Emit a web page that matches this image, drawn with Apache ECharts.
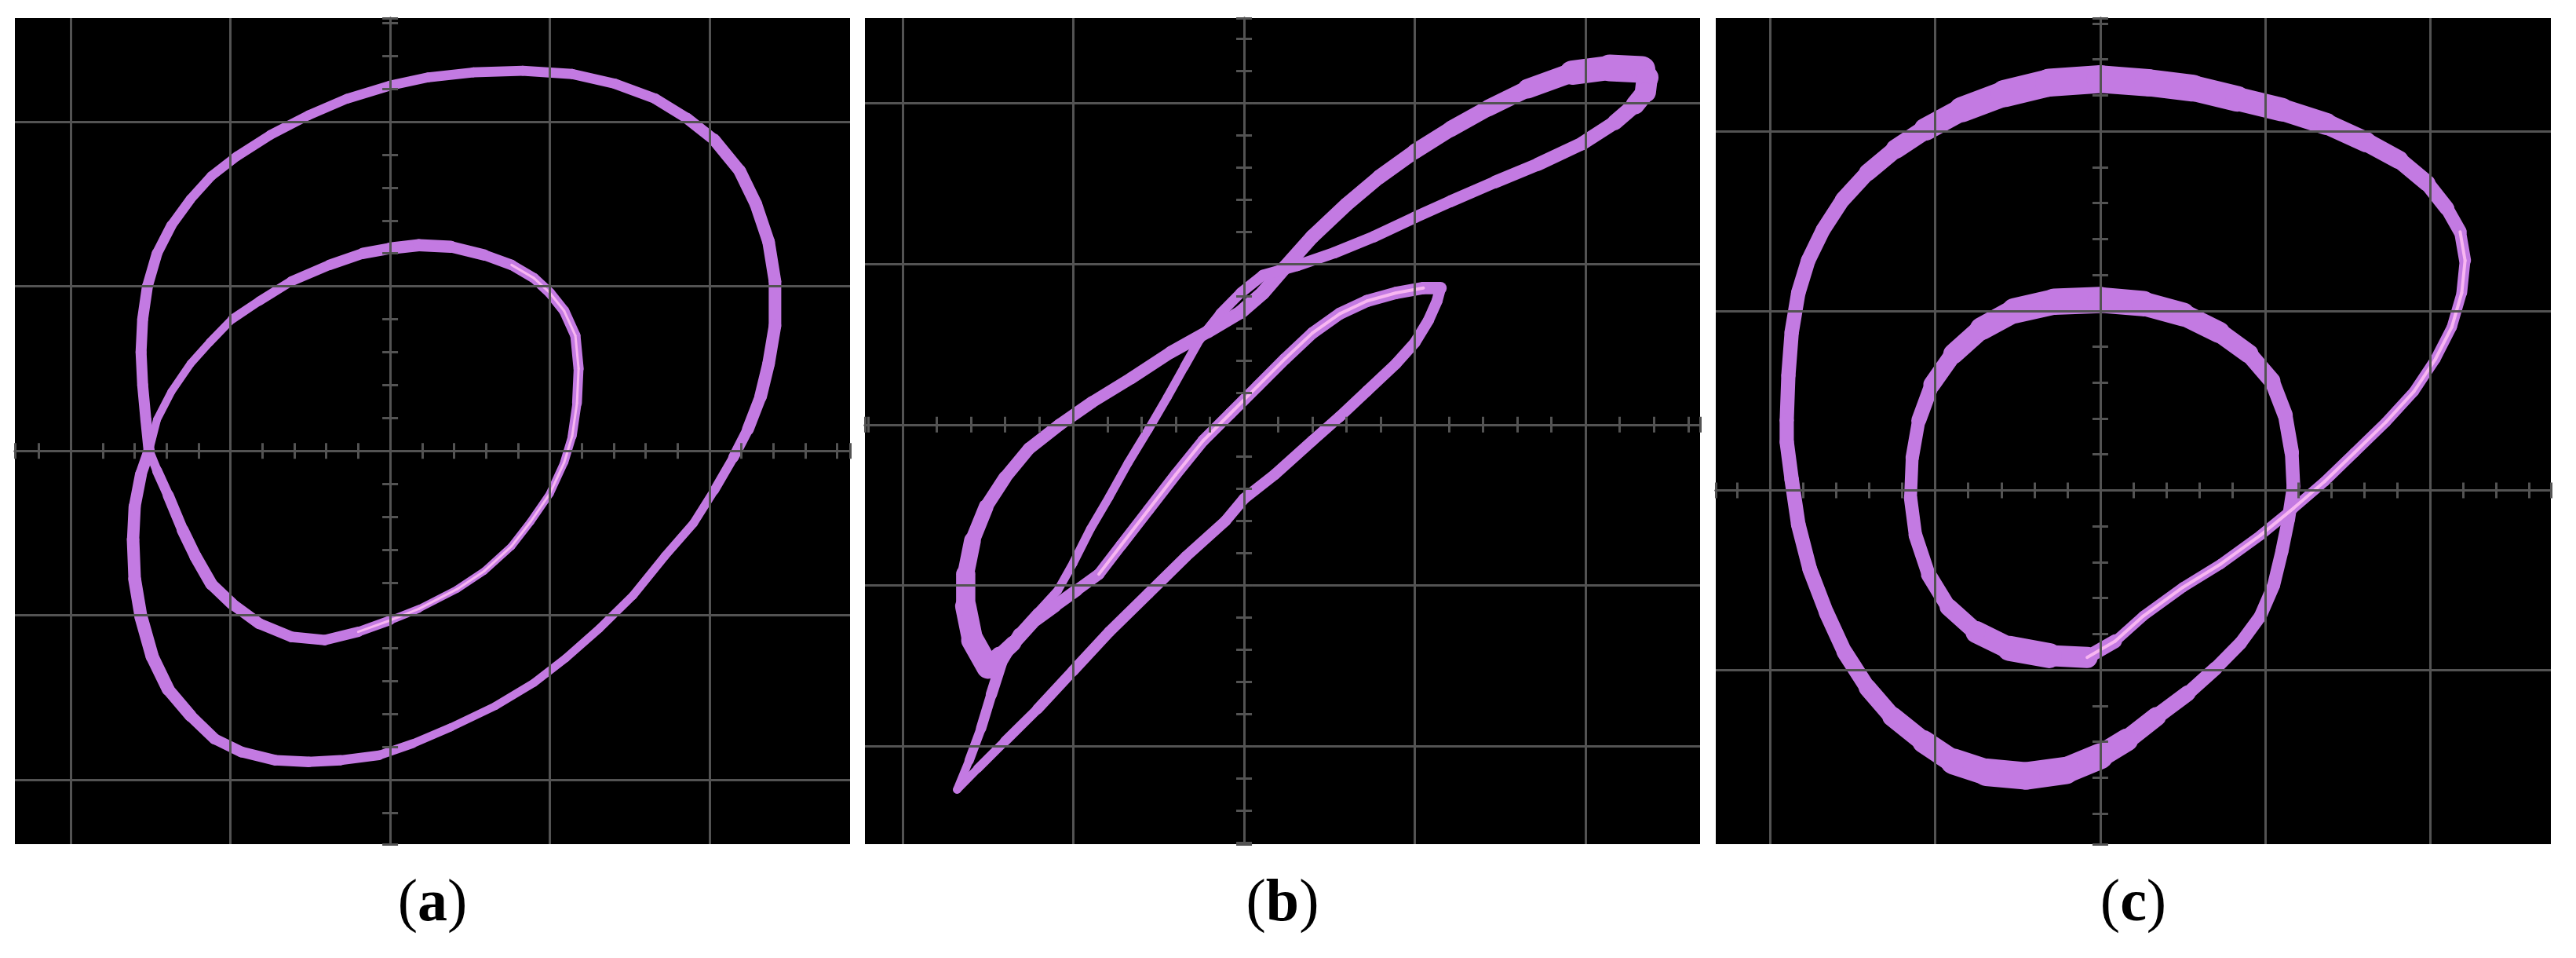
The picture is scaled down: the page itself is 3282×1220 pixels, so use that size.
<!DOCTYPE html>
<html><head><meta charset="utf-8">
<script src="https://cdn.jsdelivr.net/npm/echarts@6/dist/echarts.min.js"></script>
<style>html,body{margin:0;padding:0;background:#fff;} #chart{width:3282px;height:1220px;}</style>
</head><body><div id="chart"></div>
<script>
// ---------- data (oscilloscope divisions) ----------
const panelLabels = ['a', 'b', 'c'];

// panel (a): one closed trace, outer loop and inner loop through the crossing point
const aOuter = [[-1.51,0],[-1.53,0.19],[-1.55,0.40],[-1.56,0.60],[-1.55,0.80],[-1.52,1.00],[-1.46,1.20],[-1.37,1.37],[-1.25,1.53],[-1.12,1.67],[-0.96,1.79],[-0.75,1.92],[-0.51,2.04],[-0.27,2.14],[0,2.22],[0.24,2.27],[0.52,2.30],[0.83,2.31],[1.14,2.29],[1.41,2.23],[1.66,2.14],[1.86,2.02],[2.03,1.89],[2.19,1.70],[2.29,1.50],[2.37,1.27],[2.41,1.03],[2.41,0.76],[2.37,0.53],[2.32,0.33],[2.24,0.13],[2.15,-0.04],[2.03,-0.24],[1.90,-0.44],[1.72,-0.64],[1.52,-0.88],[1.31,-1.08],[1.10,-1.26],[0.90,-1.41],[0.66,-1.55],[0.38,-1.68],[0.14,-1.78],[-0.07,-1.85],[-0.31,-1.88],[-0.51,-1.89],[-0.72,-1.88],[-0.93,-1.83],[-1.10,-1.75],[-1.25,-1.61],[-1.39,-1.45],[-1.49,-1.25],[-1.56,-1.01],[-1.60,-0.78],[-1.61,-0.54],[-1.60,-0.34],[-1.56,-0.14],[-1.51,0]];
const aInner = [[-1.51,0],[-1.46,0.19],[-1.37,0.36],[-1.25,0.53],[-1.13,0.66],[-0.99,0.80],[-0.82,0.91],[-0.62,1.03],[-0.38,1.13],[-0.17,1.20],[0,1.23],[0.18,1.25],[0.38,1.24],[0.59,1.19],[0.76,1.13],[0.90,1.05],[1.00,0.96],[1.09,0.85],[1.16,0.70],[1.18,0.50],[1.17,0.29],[1.14,0.09],[1.09,-0.07],[1.00,-0.26],[0.88,-0.43],[0.76,-0.58],[0.59,-0.73],[0.42,-0.84],[0.18,-0.96],[0,-1.03],[-0.20,-1.10],[-0.41,-1.15],[-0.62,-1.13],[-0.82,-1.05],[-0.99,-0.93],[-1.12,-0.81],[-1.22,-0.64],[-1.30,-0.48],[-1.39,-0.27],[-1.46,-0.12],[-1.51,0]];

// panel (b): two nested leaf-shaped loops
const bUpperEdge = [[-1.50,-1.51],[-1.59,-1.34],[-1.63,-1.13],[-1.63,-0.93],[-1.59,-0.72],[-1.51,-0.51],[-1.40,-0.33],[-1.26,-0.15],[-1.08,0],[-0.89,0.14],[-0.66,0.29],[-0.43,0.45],[-0.21,0.58],[-0.02,0.70],[0.11,0.82],[0.24,0.98],[0.40,1.17],[0.60,1.37],[0.79,1.54],[1.00,1.70],[1.21,1.84],[1.43,1.97],[1.66,2.09],[1.92,2.19],[2.14,2.22],[2.33,2.21]];
const bReturnEdge = [[2.33,2.21],[2.36,2.16],[2.35,2.07],[2.29,1.99],[2.17,1.88],[1.98,1.75],[1.72,1.62],[1.47,1.51],[1.21,1.39],[1.00,1.29],[0.76,1.17],[0.53,1.07],[0.31,0.99],[0.11,0.93],[-0.02,0.82],[-0.14,0.69],[-0.26,0.53],[-0.35,0.36],[-0.45,0.17],[-0.56,-0.03],[-0.68,-0.24],[-0.79,-0.45],[-0.90,-0.65],[-1.00,-0.86],[-1.09,-1.03],[-1.21,-1.17],[-1.32,-1.30],[-1.42,-1.48],[-1.48,-1.68],[-1.54,-1.89],[-1.61,-2.09],[-1.68,-2.27]];
const bLowerEdge = [[-1.68,-2.27],[-1.56,-2.14],[-1.40,-1.97],[-1.21,-1.77],[-1.00,-1.53],[-0.79,-1.29],[-0.56,-1.05],[-0.34,-0.82],[-0.11,-0.60],[0,-0.46],[0.18,-0.31],[0.40,-0.10],[0.56,0.05],[0.72,0.21],[0.89,0.38],[1.00,0.51],[1.08,0.65],[1.13,0.77],[1.15,0.85]];
const bSmallEdge = [[1.15,0.85],[1.05,0.85],[0.89,0.82],[0.72,0.77],[0.56,0.69],[0.40,0.57],[0.24,0.41],[0.08,0.24],[-0.08,0.07],[-0.24,-0.10],[-0.40,-0.31],[-0.56,-0.53],[-0.72,-0.75],[-0.85,-0.93],[-0.98,-1.03],[-1.11,-1.13],[-1.24,-1.23],[-1.35,-1.36],[-1.43,-1.44],[-1.50,-1.51]];

// panel (c): one closed trace
const cLoop = [[-1.90,0.39],[-1.89,0.64],[-1.87,0.88],[-1.83,1.10],[-1.77,1.28],[-1.68,1.45],[-1.56,1.62],[-1.41,1.77],[-1.24,1.90],[-1.06,2.01],[-0.84,2.12],[-0.58,2.21],[-0.31,2.27],[0,2.29],[0.29,2.27],[0.56,2.24],[0.83,2.18],[1.10,2.12],[1.37,2.04],[1.61,1.94],[1.81,1.84],[1.98,1.71],[2.10,1.57],[2.18,1.44],[2.21,1.28],[2.19,1.10],[2.13,0.91],[2.03,0.73],[1.90,0.55],[1.73,0.38],[1.54,0.21],[1.36,0.05],[1.17,-0.10],[0.97,-0.25],[0.73,-0.41],[0.50,-0.54],[0.26,-0.70],[0.09,-0.84],[-0.08,-0.93],[-0.31,-0.92],[-0.55,-0.88],[-0.75,-0.79],[-0.92,-0.65],[-1.04,-0.47],[-1.12,-0.25],[-1.15,-0.04],[-1.14,0.18],[-1.10,0.39],[-1.02,0.59],[-0.89,0.76],[-0.72,0.90],[-0.52,1.00],[-0.28,1.05],[0,1.06],[0.26,1.04],[0.50,0.98],[0.72,0.88],[0.90,0.76],[1.04,0.61],[1.12,0.42],[1.16,0.21],[1.17,0.02],[1.14,-0.16],[1.10,-0.34],[1.05,-0.53],[0.97,-0.70],[0.85,-0.85],[0.70,-0.99],[0.53,-1.13],[0.34,-1.26],[0.16,-1.39],[0,-1.48],[-0.21,-1.56],[-0.45,-1.59],[-0.69,-1.57],[-0.89,-1.51],[-1.07,-1.40],[-1.26,-1.26],[-1.41,-1.10],[-1.55,-0.90],[-1.66,-0.68],[-1.76,-0.44],[-1.83,-0.19],[-1.87,0.06],[-1.90,0.27],[-1.90,0.39]];

// visible screen extents of each panel, in divisions [xmin, xmax, ymin, ymax]
const aExtent = [-2.35, 2.88, -2.39, 2.63];
const bExtent = [-2.22, 2.67, -2.61, 2.53];
const cExtent = [-2.33, 2.73, -1.97, 2.63];

// ---------- styling ----------
const GRID = '#535353';
const TRACE = '#c37ae2';
const GLOW = '#f8b6f2';
const panelLeft = [19, 1102, 2186];
const panelTop = 23, panelW = 1064, panelH = 1052;
const labelY = 1152;

// trace thickness (px) keyed by point index along each trace
const aOuterW = [[0,14],[5,14],[8,12],[20,13],[23,16],[29,16],[32,11],[40,10],[43,13],[47,14],[50,17],[55,15],[56,14]];
const aInnerW = [[0,10],[4,10],[8,13],[11,16],[14,13],[19,13],[22,10],[28,9],[30,13],[33,14],[36,16],[40,11]];
const bUpperW = [[0,30],[2,26],[4,20],[6,16],[10,15],[14,18],[18,18],[22,22],[24,34],[25,34]];
const bReturnW = [[0,30],[2,26],[4,18],[8,15],[13,14],[17,11],[25,11],[27,15],[31,10]];
const bLowerW = [[0,10],[4,14],[18,14]];
const bSmallW = [[0,16],[13,14],[17,18],[19,26]];
const cLoopW = [[0,18],[6,19],[8,23],[10,31],[12,36],[15,34],[17,29],[19,25],[21,20],[23,16],[25,13],[37,13],[38,22],[39,32],[40,32],[41,24],[43,18],[46,16],[48,20],[50,28],[52,34],[54,32],[56,26],[58,20],[61,17],[66,16],[68,18],[70,27],[72,35],[74,35],[76,27],[78,21],[80,19],[85,18]];

function widthsFor(n, keys) {
  const out = [];
  for (let i = 0; i < n; i++) {
    let k = 0;
    while (k < keys.length - 1 && keys[k + 1][0] < i) k++;
    const a = keys[k], b = keys[Math.min(k + 1, keys.length - 1)];
    const t = b[0] === a[0] ? 0 : Math.max(0, Math.min(1, (i - a[0]) / (b[0] - a[0])));
    out.push(a[1] + (b[1] - a[1]) * t);
  }
  return out;
}

function xAx(g, pos, lo, hi, split) {
  return {
    type: 'value', gridIndex: g, position: pos, min: lo, max: hi, splitNumber: 5, z: 10,
    axisLine: {show: true, onZero: true, lineStyle: {color: GRID, width: 3}},
    axisTick: {show: true, length: 10, lineStyle: {color: GRID, width: 3}},
    minorTick: {show: true, splitNumber: 5, length: 10, lineStyle: {color: GRID, width: 3}},
    axisLabel: {show: false},
    splitLine: {show: split, showMinLine: false, showMaxLine: false, lineStyle: {color: GRID, width: 3}},
    minorSplitLine: {show: false}
  };
}

function band(g, pts, from, to, widthKeys, color, z, fixedWidth) {
  const sub = pts.slice(from, to + 1);
  const w = fixedWidth ? sub.map(() => fixedWidth) : widthsFor(pts.length, widthKeys).slice(from, to + 1);
  return {
    type: 'custom', coordinateSystem: 'cartesian2d', xAxisIndex: 2 * g, yAxisIndex: 2 * g,
    data: sub, encode: {x: 0, y: 1}, silent: true, animation: false, z: z || 2,
    renderItem: function (params, api) {
      const i = params.dataIndex;
      if (i >= sub.length - 1) return null;
      const p0 = api.coord([api.value(0), api.value(1)]);
      const p1 = api.coord(sub[i + 1]);
      return {type: 'line', shape: {x1: p0[0], y1: p0[1], x2: p1[0], y2: p1[1]},
        style: {stroke: color, lineWidth: (w[i] + w[i + 1]) / 2, lineCap: 'round', fill: null}};
    }
  };
}

const extents = [aExtent, bExtent, cExtent];
const grids = [], xAxes = [], yAxes = [];
extents.forEach((r, g) => {
  grids.push({left: panelLeft[g], top: panelTop, width: panelW, height: panelH, show: true,
    backgroundColor: '#000', borderWidth: 0, containLabel: false, outerBoundsMode: 'none'});
  xAxes.push(xAx(g, 'bottom', r[0], r[1], true), xAx(g, 'top', r[0], r[1], false));
  yAxes.push(xAx(g, 'left', r[2], r[3], true), xAx(g, 'right', r[2], r[3], false));
});

const series = [
  band(0, aOuter, 0, aOuter.length - 1, aOuterW, TRACE),
  band(0, aInner, 0, aInner.length - 1, aInnerW, TRACE),
  band(0, aInner, 14, 30, null, GLOW, 3, 3),
  band(1, bUpperEdge, 0, bUpperEdge.length - 1, bUpperW, TRACE),
  band(1, bReturnEdge, 0, bReturnEdge.length - 1, bReturnW, TRACE),
  band(1, bLowerEdge, 0, bLowerEdge.length - 1, bLowerW, TRACE),
  band(1, bSmallEdge, 0, bSmallEdge.length - 1, bSmallW, TRACE),
  band(1, bSmallEdge, 1, 13, null, GLOW, 3, 4),
  band(2, cLoop, 0, cLoop.length - 1, cLoopW, TRACE),
  band(2, cLoop, 23, 38, null, GLOW, 3, 4)
];

const graphics = panelLabels.map((t, g) => ({
  type: 'text', x: panelLeft[g] + panelW / 2, y: labelY, z: 20,
  style: {
    text: '{p|(}{b|' + t + '}{p|)}', align: 'center', verticalAlign: 'middle',
    textAlign: 'center', textVerticalAlign: 'middle', fill: '#000',
    font: '76px "Liberation Serif"',
    rich: {
      p: {fontFamily: 'Liberation Serif', fontSize: 76, fontWeight: 'normal', fill: '#000', color: '#000'},
      b: {fontFamily: 'Liberation Serif', fontSize: 76, fontWeight: 'bold', fill: '#000', color: '#000'}
    }
  }
}));

const chart = echarts.init(document.getElementById('chart'), null, {renderer: 'canvas'});
chart.setOption({
  backgroundColor: '#fff', animation: false,
  grid: grids, xAxis: xAxes, yAxis: yAxes, series: series, graphic: graphics
});
</script></body></html>
